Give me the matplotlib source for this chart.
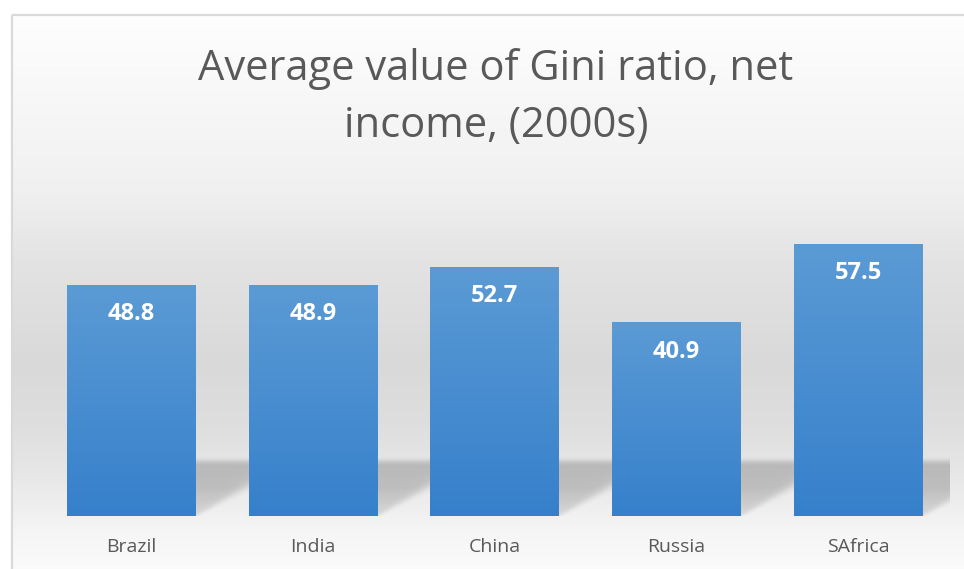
import numpy as np
import matplotlib
matplotlib.use('Agg')
import matplotlib.pyplot as plt
from matplotlib.patches import Rectangle

countries = ['Brazil', 'India', 'China', 'Russia', 'SAfrica']
gini = [48.8, 48.9, 52.7, 40.9, 57.5]
title_lines = ['Average value of Gini ratio, net', 'income, (2000s)']

W, H = 964, 569
fig = plt.figure(figsize=(W / 100, H / 100), dpi=100)
fig.patch.set_facecolor('white')

# chart area background (vertical grey gradient), drawn in pixel space
bg = fig.add_axes([0, 0, 1, 1], zorder=0)
bg.set_xlim(0, W)
bg.set_ylim(H, 0)
bg.axis('off')
rows = np.arange(15, H + 1)
stops_y = [15, 190, 260, 360, 420, 470, 500, 530, 569]
stops_g = [254, 240, 227, 217, 222, 231, 238, 246, 251]
col = np.interp(rows, stops_y, stops_g) / 255.0
img = np.repeat(col[:, None, None], 3, axis=2)
bg.imshow(img, extent=(12, W + 5, H + 5, 15), aspect='auto', interpolation='bilinear')
bg.add_patch(Rectangle((11.5, 14.5), W, H, fill=False, edgecolor='#d9d9d9', lw=1.6))

# title
fig.text(496 / W, 1 - 80 / H, title_lines[0], ha='center', va='baseline',
         fontsize=30, color='#595959', family='Open Sans')
fig.text(496 / W, 1 - 137 / H, title_lines[1], ha='center', va='baseline',
         fontsize=30, color='#595959', family='Open Sans')

# plot area
ymax = 70
left, right = 40.7, 949.0
bottom = 516.0
ppu = 4.733
top = bottom - ymax * ppu
ax = fig.add_axes([left / W, 1 - bottom / H, (right - left) / W, (bottom - top) / H], zorder=1)
ax.patch.set_alpha(0)
x = np.arange(len(countries))
ax.set_xlim(-0.5, len(countries) - 0.5)
ax.set_ylim(0, ymax)
for s in ax.spines.values():
    s.set_visible(False)
ax.set_yticks([])
ax.set_xticks(x, countries)
ax.tick_params(axis='x', length=0, pad=16, labelsize=14, labelcolor='#595959')
for lab in ax.get_xticklabels():
    lab.set_family('Open Sans')

# perspective shadow behind bars
bw = 0.71
k = 0.044
hs = np.linspace(0, 16, 200)
xs = np.linspace(-0.5, len(countries) - 0.5, 1200)
XX, HH = np.meshgrid(xs, hs)
mask = np.zeros_like(XX)
for xi in x:
    sft = 0.010 + 0.0025 * HH
    L = xi - bw / 2 + k * HH
    R = xi + bw / 2 + k * HH
    m = 1 / (1 + np.exp(-(XX - L) / sft)) * 1 / (1 + np.exp(-(R - XX) / sft))
    mask = np.maximum(mask, m)
vert = np.clip((12.6 - hs) / 2.0, 0, 1)
vert = vert * vert * (3 - 2 * vert)
low = 0.55 + 0.45 * np.clip(hs / 6.0, 0, 1)
mask = mask * (vert * low)[:, None]
shadow = np.zeros(XX.shape + (4,))
shadow[..., 3] = 0.19 * mask
ax.imshow(shadow, extent=(xs[0], xs[-1], 0, 16), origin='lower', aspect='auto',
          zorder=1, interpolation='bilinear')

# bars with vertical gradient
bars = ax.bar(x, gini, width=bw, color='#4a8fd1', zorder=2)
grad = np.linspace(0, 1, 256)[:, None]
c_top = np.array([0x5b, 0x9b, 0xd5]) / 255
c_bot = np.array([0x36, 0x80, 0xcb]) / 255
gimg = (c_bot[None, None, :] * (1 - grad[..., None]) + c_top[None, None, :] * grad[..., None])
for b in bars:
    bx, by = b.get_x(), b.get_y()
    im = ax.imshow(gimg, extent=(bx, bx + b.get_width(), by, by + b.get_height()),
                   origin='lower', aspect='auto', zorder=3)
    im.set_clip_path(b)

for xi, v in zip(x, gini):
    ax.annotate('{0:.1f}'.format(v), (xi, v), xytext=(0, -21), textcoords='offset points',
                ha='center', va='center', fontsize=17, color='white',
                family='Open Sans', weight='bold', zorder=4)

ax.set_xlim(-0.5, len(countries) - 0.5)
ax.set_ylim(0, ymax)
plt.savefig('out.png', dpi=100)
